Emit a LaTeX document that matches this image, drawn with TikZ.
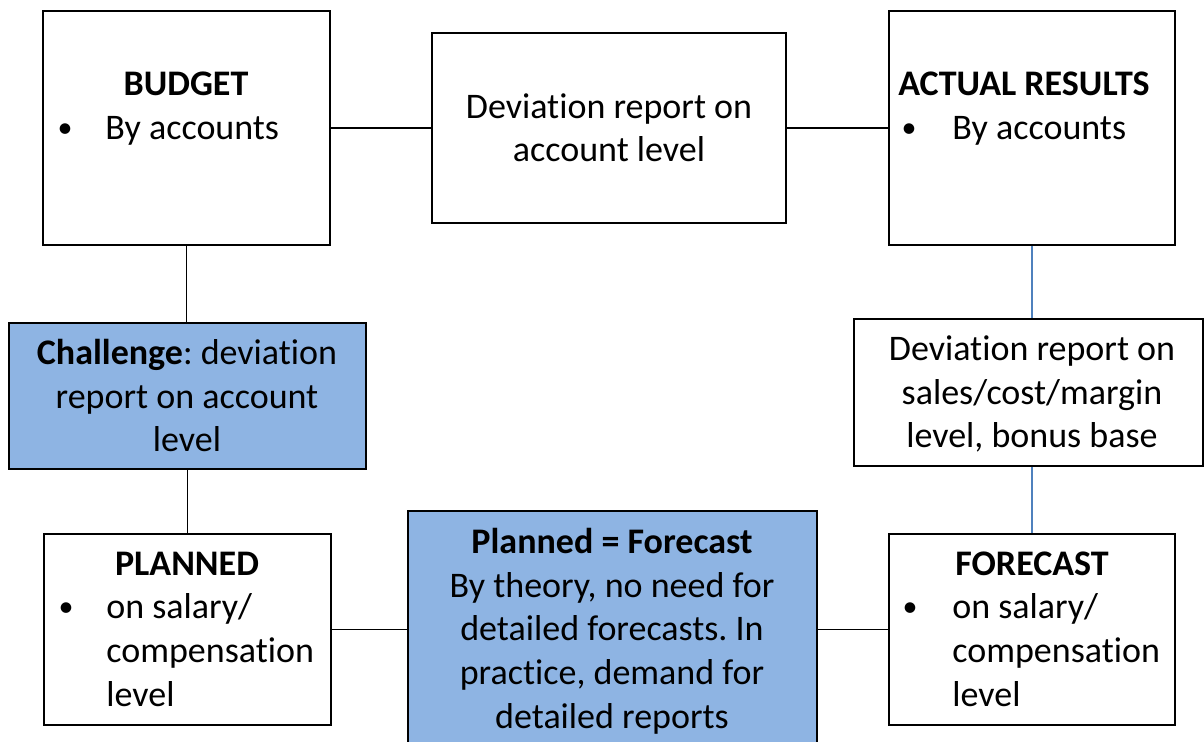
\documentclass[tikz,border=0pt]{standalone}
\usepackage{fontspec}
\setmainfont{Carlito}[Ligatures=NoCommon]
\usetikzlibrary{positioning}
\definecolor{boxblue}{RGB}{142,180,227}
\definecolor{linkblue}{RGB}{79,129,189}
\frenchspacing

\begin{document}
\begin{tikzpicture}[x=0.5pt,y=-0.5pt,
    box/.style={draw,line width=1pt,inner sep=0pt},
    bluebox/.style={box,fill=boxblue},
    txt/.style={inner sep=0pt,font=\fontsize{18}{21.8}\selectfont},
    dot/.style={inner sep=0pt,font=\fontsize{15}{18}\selectfont},
    link/.style={line width=0.75pt},
    bluelink/.style={link,draw=linkblue}]
      \useasboundingbox (0,0) rectangle (1204,742);
      \clip (0,0) rectangle (1204,742);
      % row 1
      \node [box,minimum width=143.5pt,minimum height=117pt] (budget) at (186.5,128) {};
      \node [box,minimum width=177pt,minimum height=95pt] (devacc) at (609,128) {};
      \node [box,minimum width=143pt,minimum height=117pt] (actual) at (1032,128) {};
      % row 2
      \node [bluebox,minimum width=178.5pt,minimum height=73pt] (challenge) at (187.5,396) {};
      \node [box,minimum width=174.5pt,minimum height=73.5pt] (devsales) at (1028.5,392.5) {};
      % row 3
      \node [box,minimum width=143.5pt,minimum height=95.5pt] (planned) at (187.5,629.5) {};
      \node [bluebox,minimum width=204.5pt,minimum height=117pt] (planfc) at (612.5,628) {};
      \node [box,minimum width=143pt,minimum height=95.5pt] (forecast) at (1032,629.5) {};

      % texts (base = last line)
      \node [txt,anchor=base] (budgettitle) at (186,96) {\textbf{BUDGET}};
      \node [dot,anchor=base] (budgetdot) at (65,138) {•};
      \node [txt,anchor=base west] (budgetitem) at (105,140) {By accounts};
      \node [txt,anchor=base,align=center] (devacctext) at (609,162) {Deviation report on\\account level};
      \node [txt,anchor=base] (actualtitle) at (1024,96) {\textbf{ACTUAL RESULTS}};
      \node [dot,anchor=base] (actualdot) at (909,138) {•};
      \node [txt,anchor=base west] (actualitem) at (952,140) {By accounts};
      \node [txt,anchor=base,align=center] (challengetext) at (187,452) {\textbf{Challenge}: deviation\\report on account\\level};
      \node [txt,anchor=base,align=center] (devsalestext) at (1032,448) {Deviation report on\\sales/cost/margin\\level, bonus base};
      \node [txt,anchor=base] (plannedtitle) at (187,575) {\textbf{PLANNED}};
      \node [dot,anchor=base] (planneddot) at (66,616) {•};
      \node [txt,anchor=base west,align=left] (planneditem) at (106,706) {on salary/\\compensation\\level};
      \node [txt,anchor=base,align=center] (planfctext) at (612,728) {\textbf{Planned = Forecast}\\By theory, no need for\\detailed forecasts. In\\practice, demand for\\detailed reports};
      \node [txt,anchor=base] (forecasttitle) at (1032,575) {\textbf{FORECAST}};
      \node [dot,anchor=base] (forecastdot) at (910,616) {•};
      \node [txt,anchor=base west,align=left] (forecastitem) at (952,706) {on salary/\\compensation\\level};

      % links
      \draw [link] (budget) -- (devacc);
      \draw [link] (devacc) -- (actual);
      \draw [link] (budget.south) -- (budget.south |- challenge.north);
      \draw [link] (challenge) -- (planned);
      \draw [bluelink] (actual.south) -- (actual.south |- devsales.north);
      \draw [bluelink] (forecast.north |- devsales.south) -- (forecast.north);
      \draw [link] (planned.east) -- (planned.east -| planfc.west);
      \draw [link] (planfc.east |- forecast.west) -- (forecast.west);
    \end{tikzpicture}
\end{document}
